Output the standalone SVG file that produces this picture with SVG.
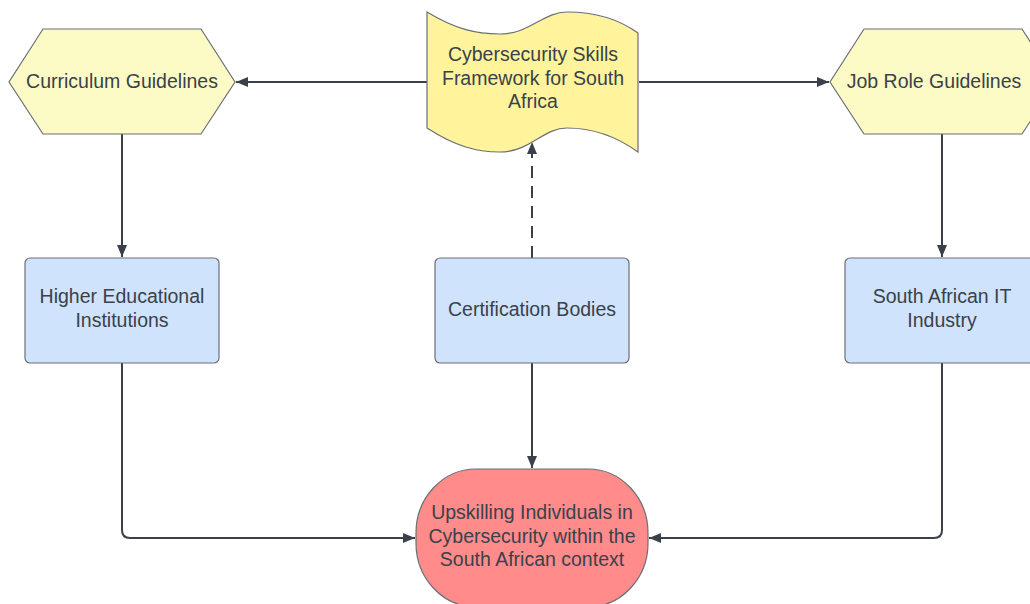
<svg xmlns="http://www.w3.org/2000/svg" width="1030" height="604" viewBox="0 0 1030 604">
<defs>
<style>
.hex{fill:#fdfbc5;stroke:#6b6f75;stroke-width:1.2}
.flag{fill:#fff49c;stroke:#6b6f75;stroke-width:1.2}
.box{fill:#cfe3fd;stroke:#6b6f75;stroke-width:1.2}
.term{fill:#ff8b8b;stroke:#6b6f75;stroke-width:1.2}
.t{font-family:"Liberation Sans",Arial,sans-serif;font-size:19.5px;fill:#3a414a;text-anchor:middle;dominant-baseline:central}
.c{fill:none;stroke:#3a414a;stroke-width:2}
.d{stroke-dasharray:12 8}
</style>
<marker id="ah" viewBox="0 0 12 10" refX="12" refY="5" markerWidth="12" markerHeight="10" markerUnits="userSpaceOnUse" orient="auto">
<path d="M0,0 L12,5 L0,10 Z" fill="#3a414a"/>
</marker>
</defs>
<rect width="1030" height="604" fill="#ffffff"/>
<g id="connectors">
<path class="c" d="M427,82 L236,82" marker-end="url(#ah)"/>
<path class="c" d="M639,82 L829,82" marker-end="url(#ah)"/>
<path class="c" d="M122,134 L122,257" marker-end="url(#ah)"/>
<path class="c" d="M942,134 L942,257" marker-end="url(#ah)"/>
<path class="c d" d="M532,258 L532,142" marker-end="url(#ah)"/>
<path class="c" d="M532,363 L532,468" marker-end="url(#ah)"/>
<path class="c" d="M122,363 L122,530 Q122,538 130,538 L415,538" marker-end="url(#ah)"/>
<path class="c" d="M942,363 L942,530 Q942,538 934,538 L649,538" marker-end="url(#ah)"/>
</g>
<g id="curriculum">
<polygon class="hex" points="43,29 201,29 235,82 201,134 43,134 9,82"/>
<text class="t" x="122" y="81">Curriculum Guidelines</text>
</g>
<g id="framework">
<path class="flag" d="M427,12 C455,29 476,34 500,34 C530,34 543,12 567,12 C595,12 620,20 638,33 L638,152 C620,139 595,128 567,128 C543,128 530,152 500,152 C476,152 455,146 427,128 Z"/>
<text class="t" x="533" y="54">Cybersecurity Skills</text>
<text class="t" x="533" y="77.5">Framework for South</text>
<text class="t" x="533" y="101">Africa</text>
</g>
<g id="jobrole">
<polygon class="hex" points="864,29 1022,29 1056,82 1022,134 864,134 830,82"/>
<text class="t" x="934" y="81">Job Role Guidelines</text>
</g>
<g id="higher">
<rect class="box" x="25" y="258" width="194" height="105" rx="5"/>
<text class="t" x="122" y="296">Higher Educational</text>
<text class="t" x="122" y="319.5">Institutions</text>
</g>
<g id="cert">
<rect class="box" x="435" y="258" width="194" height="105" rx="5"/>
<text class="t" x="532" y="309">Certification Bodies</text>
</g>
<g id="industry">
<rect class="box" x="845" y="258" width="194" height="105" rx="5"/>
<text class="t" x="942" y="296">South African IT</text>
<text class="t" x="942" y="319.5">Industry</text>
</g>
<g id="upskilling">
<rect class="term" x="416" y="469" width="232" height="138" rx="60" ry="64"/>
<text class="t" x="532" y="512">Upskilling Individuals in</text>
<text class="t" x="532" y="535.5">Cybersecurity within the</text>
<text class="t" x="532" y="559">South African context</text>
</g>
</svg>
